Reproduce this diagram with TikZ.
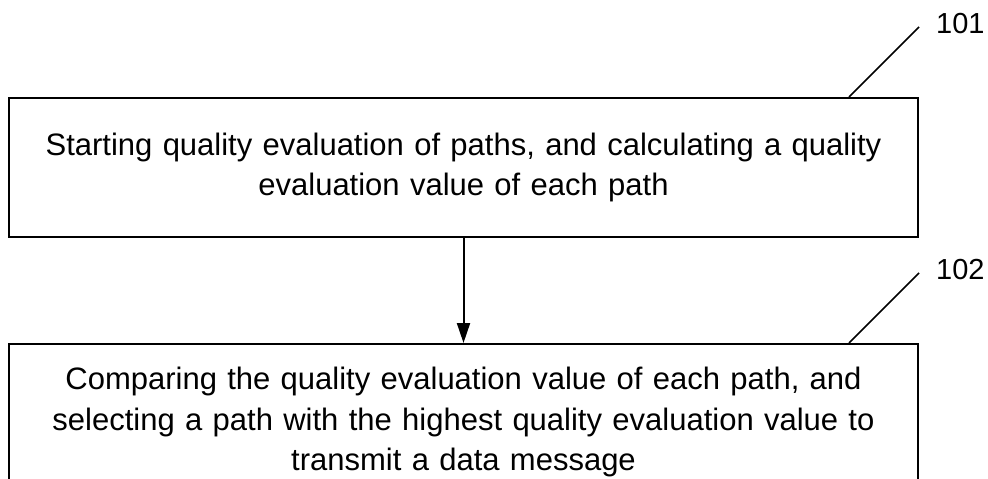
\documentclass[tikz,border=0pt]{standalone}
\usepackage{fontspec}
\setmainfont{Liberation Sans}
\usepackage{tikz}
\usetikzlibrary{arrows.meta, positioning, calc}
\tikzset{
  stepbox/.style={rectangle, draw=black, fill=white, line width=2pt,
    minimum width=909pt, text width=880pt, align=center,
    font=\fontsize{31}{40.5}\selectfont},
  leader/.style={line width=1.7pt, color=black},
  tag/.style={font=\fontsize{29}{34}\selectfont, inner sep=0pt},
  arrow/.style={-{Triangle[length=20pt, width=13pt]}, line width=2pt, color=black}
}
\begin{document}
\begin{tikzpicture}[x=1pt, y=1pt]
  \useasboundingbox (0,0) rectangle (988,-479);

  \node[stepbox, minimum height=139pt] (s101) at (463.5,-167.5)
    {Starting quality evaluation of paths, and calculating a quality\\ evaluation value of each path};
  \node[stepbox, minimum height=156pt, below=105pt of s101] (s102)
    {Comparing the quality evaluation value of each path, and\\ selecting a path with the highest quality evaluation value to\\ transmit a data message};

  \draw[arrow] (s101) -- (s102);

  % reference numerals
  \draw[leader] ([xshift=-70pt]s101.north east) -- ++(70,70) coordinate (t101);
  \draw[leader] ([xshift=-70pt]s102.north east) -- ++(70,70) coordinate (t102);
  \node[tag, anchor=base west] (n101) at ([xshift=17pt, yshift=-6pt]t101) {101};
  \node[tag, anchor=base west] (n102) at ([xshift=17pt, yshift=-6pt]t102) {102};
\end{tikzpicture}
\end{document}
